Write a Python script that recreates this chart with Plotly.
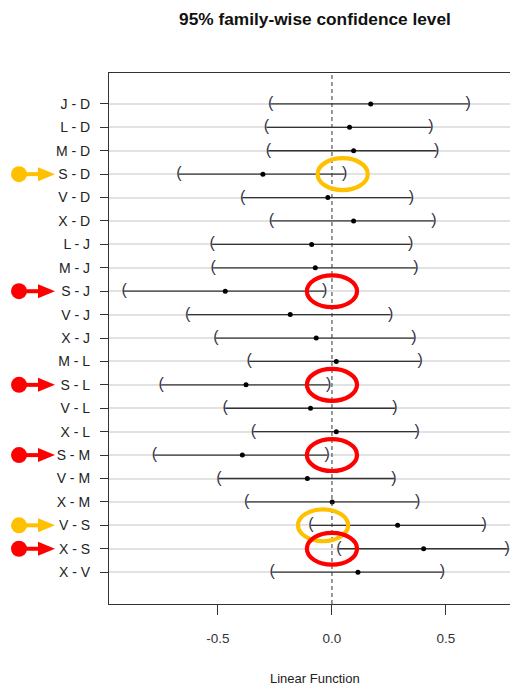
import plotly.graph_objects as go

# ---- data ----
comparisons = ["J - D", "L - D", "M - D", "S - D", "V - D", "X - D", "L - J", "M - J",
               "S - J", "V - J", "X - J", "M - L", "S - L", "V - L", "X - L", "S - M",
               "V - M", "X - M", "V - S", "X - S", "X - V"]
diff = [0.170, 0.077, 0.095, -0.303, -0.018, 0.095, -0.089, -0.073, -0.468, -0.183, -0.069,
        0.019, -0.377, -0.094, 0.019, -0.393, -0.108, 0.001, 0.288, 0.402, 0.114]
lwr = [-0.269, -0.287, -0.279, -0.671, -0.392, -0.266, -0.525, -0.521, -0.912, -0.633, -0.509,
       -0.363, -0.749, -0.468, -0.345, -0.779, -0.496, -0.374, -0.092, 0.031, -0.262]
upr = [0.598, 0.434, 0.459, 0.056, 0.349, 0.447, 0.345, 0.368, -0.032, 0.257, 0.360,
       0.387, -0.015, 0.276, 0.374, -0.021, 0.272, 0.376, 0.668, 0.769, 0.485]
x_tick_vals = [-0.5, 0.0, 0.5]
x_tick_labels = ["-0.5", "0.0", "0.5"]

highlight_rows = ["S - D", "S - J", "S - L", "S - M", "V - S", "X - S"]
highlight_colors = ["#FFC000", "#FF0000", "#FF0000", "#FF0000", "#FFC000", "#FF0000"]
ellipse_centers = [0.047, 0.0, 0.0, 0.0, -0.039, 0.0]

title_text = "95% family-wise confidence level"
x_title = "Linear Function"

FONT = "Liberation Sans, Arial, sans-serif"
rows = list(range(len(comparisons)))

fig = go.Figure()

# interval lines
lx, ly = [], []
for i in rows:
    lx += [lwr[i], upr[i], None]
    ly += [i, i, None]
fig.add_trace(go.Scatter(x=lx, y=ly, mode="lines",
                         line=dict(color="#333333", width=1.3), hoverinfo="skip"))
# brackets
fig.add_trace(go.Scatter(x=lwr, y=rows, mode="text", text=["("] * len(rows),
                         textposition="middle center",
                         textfont=dict(family=FONT, size=16, color="#333344")))
fig.add_trace(go.Scatter(x=upr, y=rows, mode="text", text=[")"] * len(rows),
                         textposition="middle center",
                         textfont=dict(family=FONT, size=16, color="#333344")))
# estimates
fig.add_trace(go.Scatter(x=diff, y=rows, mode="markers",
                         marker=dict(color="black", size=5)))

shapes = []
# zero reference line
shapes.append(dict(type="line", xref="x", yref="paper", x0=0, x1=0, y0=0, y1=1,
                   line=dict(color="#333333", width=1, dash="4px,3px"), layer="above"))

for name, col, cx in zip(highlight_rows, highlight_colors, ellipse_centers):
    r = comparisons.index(name)
    # ellipse around the zero crossing
    shapes.append(dict(type="circle", xref="x", yref="y",
                       x0=cx - 0.11, x1=cx + 0.11, y0=r - 0.68, y1=r + 0.68,
                       line=dict(color=col, width=4.2), layer="above"))
    # pointer arrow in the left margin
    common = dict(xref="paper", yref="y", xanchor=0, yanchor=r,
                  xsizemode="pixel", ysizemode="pixel", layer="above")
    shapes.append(dict(type="line", x0=-90, x1=-68, y0=0, y1=0,
                       line=dict(color=col, width=4), **common))
    shapes.append(dict(type="circle", x0=-98, x1=-82, y0=-8, y1=8,
                       fillcolor=col, line=dict(color=col, width=0), **common))
    shapes.append(dict(type="path", path="M -71,-7 L -54,0 L -71,7 Z",
                       fillcolor=col, line=dict(color=col, width=0), **common))

fig.update_layout(
    width=510, height=686,
    margin=dict(l=109, r=0, t=73, b=82),
    paper_bgcolor="white", plot_bgcolor="white",
    showlegend=False,
    font=dict(family=FONT, color="#222222"),
    title=dict(text="<b>" + title_text + "</b>", x=315 / 510, xref="container",
               xanchor="center", y=1 - 19 / 686, yref="container", yanchor="middle",
               font=dict(family=FONT, size=17.3, color="#111111")),
    shapes=shapes,
    annotations=[dict(text=x_title, xref="paper", yref="paper", x=(315 - 109) / 401,
                      y=(604 - 678) / 531, xanchor="center", yanchor="middle",
                      showarrow=False, font=dict(family=FONT, size=13, color="#222222"))],
)
fig.update_xaxes(range=[-0.978, 0.781], tickmode="array", tickvals=x_tick_vals,
                 ticktext=x_tick_labels, ticks="outside", ticklen=10, tickwidth=1,
                 tickcolor="#333333", showgrid=False, zeroline=False,
                 showline=True, linecolor="#333333", linewidth=1.2, mirror=True,
                 ticklabelstandoff=12,
                 tickfont=dict(family=FONT, size=13.5, color="#333333"))
fig.update_yaxes(range=[21.36, -1.32], tickmode="array", tickvals=rows,
                 ticktext=comparisons, ticks="outside", ticklen=8, tickwidth=1.2,
                 tickcolor="#333333", showgrid=True, gridcolor="#e2e2e2", gridwidth=2,
                 zeroline=False, showline=True, linecolor="#333333", linewidth=1.2,
                 mirror=False, ticklabelstandoff=7,
                 tickfont=dict(family=FONT, size=14, color="#222222"))

fig.write_html("out.html", config={"displayModeBar": False},
               post_script="document.body.style.margin='0';document.body.style.overflow='hidden';")
